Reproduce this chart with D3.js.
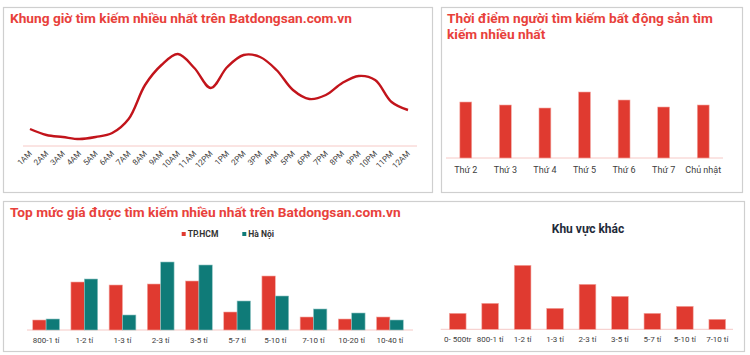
<!DOCTYPE html>
<html><head><meta charset="utf-8">
<script src="https://cdn.jsdelivr.net/npm/d3@7/dist/d3.min.js"></script>
<style>body{margin:0;background:#fff;}svg{display:block;}</style>
</head><body>
<svg id="c" width="750" height="355"></svg>
<script>
const hours = ["1AM","2AM","3AM","4AM","5AM","6AM","7AM","8AM","9AM","10AM","11AM","12PM","1PM","2PM","3PM","4PM","5PM","6PM","7PM","8PM","9PM","10PM","11PM","12AM"];
const hourValues = [17,11,9,7,9,13,27,61,81,92,78,58,79,91,89,76,56,47,51,63,70,66,44,36];

const days = ["Thứ 2","Thứ 3","Thứ 4","Thứ 5","Thứ 6","Thứ 7","Chủ nhật"];
const dayValues = [56,53,50,66,58,51,53];

const priceCats = ["800-1 tỉ","1-2 tỉ","1-3 tỉ","2-3 tỉ","3-5 tỉ","5-7 tỉ","5-10 tỉ","7-10 tỉ","10-20 tỉ","10-40 tỉ"];
const seriesNames = ["TP.HCM","Hà Nội"];
const hcmValues = [10,48,45,46,49,18,54,13,11,13];
const hanoiValues = [11,51,15,68,65,29,34,21,17,10];

const otherCats = ["0- 500tr","800-1 tỉ","1-2 tỉ","1-3 tỉ","2-3 tỉ","3-5 tỉ","5-7 tỉ","5-10 tỉ","7-10 tỉ"];
const otherValues = [16,26,64,21,45,33,16,23,10];

const RED = "#e03a30", TEAL = "#0f7b78", TITLE = "#e8413b", LINE = "#c2141b", AXIS = "#f6c9c6", LBL = "#404040";
const FONT = "Roboto, 'Liberation Sans', sans-serif";
const TSIZE = 13.7;

const svg = d3.select("#c");

// panel borders
[[3.5,7.5,429,185],[441.5,7.5,301,185],[3.5,201.5,741,150]].forEach(p=>{
  svg.append("rect").attr("x",p[0]).attr("y",p[1]).attr("width",p[2]).attr("height",p[3])
    .attr("fill","none").attr("stroke","#cfcfcf").attr("stroke-width",1.2);
});

function title(x,y,t,size,color){
  return svg.append("text").attr("x",x).attr("y",y).text(t)
    .attr("font-family",FONT).attr("font-weight","bold").attr("font-size",size).attr("fill",color);
}

// ---- Panel 1: line chart ----
title(10,23,"Khung giờ tìm kiếm nhiều nhất trên Batdongsan.com.vn",TSIZE,TITLE);
const x1 = d3.scalePoint().domain(hours).range([30,408]);
const y1 = d3.scaleLinear().domain([0,100]).range([146,46]);
svg.append("line").attr("x1",23).attr("x2",417).attr("y1",y1(0)).attr("y2",y1(0)).attr("stroke",AXIS).attr("stroke-width",1);
svg.append("path").datum(hourValues)
  .attr("d",d3.line().x((d,i)=>x1(hours[i])).y(d=>y1(d)).curve(d3.curveCatmullRom.alpha(0.5)))
  .attr("fill","none").attr("stroke",LINE).attr("stroke-width",2.4);
const ax1 = svg.append("g").attr("transform",`translate(0,${y1(0)})`)
  .call(d3.axisBottom(x1).tickSize(0).tickPadding(0));
ax1.select(".domain").remove();
ax1.selectAll("text").attr("font-family",FONT).attr("font-size",8).attr("fill",LBL)
  .attr("text-anchor","end").attr("dy",0).attr("transform","translate(2,8) rotate(-45)");

// ---- Panel 2: weekday bars ----
title(447,23,"Thời điểm người tìm kiếm bất động sản tìm",TSIZE,TITLE);
title(447,39,"kiếm nhiều nhất",TSIZE,TITLE);
const x2 = d3.scaleBand().domain(days).range([446,723]).paddingInner(0.7).paddingOuter(0.35);
const y2 = d3.scaleLinear().domain([0,100]).range([158,58]);
svg.append("line").attr("x1",446).attr("x2",723).attr("y1",y2(0)).attr("y2",y2(0)).attr("stroke",AXIS);
svg.append("g").selectAll("rect").data(dayValues).join("rect")
  .attr("x",(d,i)=>x2(days[i])).attr("width",x2.bandwidth())
  .attr("y",d=>y2(d)).attr("height",d=>y2(0)-y2(d))
  .attr("fill",RED).attr("stroke","#f3aaa4").attr("stroke-width",0.6);
const ax2 = svg.append("g").attr("transform",`translate(0,${y2(0)})`).call(d3.axisBottom(x2).tickSize(0).tickPadding(9));
ax2.select(".domain").remove();
ax2.selectAll("text").attr("font-family",FONT).attr("font-size",9).attr("fill",LBL);

// ---- Panel 3 left: grouped bars ----
title(10,217,"Top mức giá được tìm kiếm nhiều nhất trên Batdongsan.com.vn",TSIZE,TITLE);
const x3 = d3.scaleBand().domain(priceCats).range([27,409]).paddingInner(0.3).paddingOuter(0.15);
const x3s = d3.scaleBand().domain(seriesNames).range([0,x3.bandwidth()]);
const y3 = d3.scaleLinear().domain([0,100]).range([330,230]);
svg.append("line").attr("x1",27).attr("x2",413).attr("y1",y3(0)).attr("y2",y3(0)).attr("stroke",AXIS);
const seriesData = [hcmValues, hanoiValues];
const seriesColors = [RED, TEAL];
seriesData.forEach((vals,s)=>{
  svg.append("g").selectAll("rect").data(vals).join("rect")
    .attr("x",(d,i)=>x3(priceCats[i])+x3s(seriesNames[s])).attr("width",x3s.bandwidth())
    .attr("y",d=>y3(d)).attr("height",d=>y3(0)-y3(d))
    .attr("fill",seriesColors[s]).attr("stroke",s===0?"#f3aaa4":"#8fc4c2").attr("stroke-width",0.6);
});
const ax3 = svg.append("g").attr("transform",`translate(0,${y3(0)})`).call(d3.axisBottom(x3).tickSize(0).tickPadding(7));
ax3.select(".domain").remove();
ax3.selectAll("text").attr("font-family",FONT).attr("font-size",8).attr("fill",LBL);
// legend
const legX = [181.7, 242.3];
seriesNames.forEach((n,s)=>{
  svg.append("rect").attr("x",legX[s]).attr("y",232).attr("width",4).attr("height",4).attr("fill",seriesColors[s]);
  svg.append("text").attr("x",legX[s]+6).attr("y",237.2).text(n)
    .attr("font-family",FONT).attr("font-weight","bold").attr("font-size",8.5).attr("fill","#333");
});

// ---- Panel 3 right: other regions ----
svg.append("text").attr("x",588).attr("y",233).attr("text-anchor","middle").text("Khu vực khác")
  .attr("font-family",FONT).attr("font-weight","bold").attr("font-size",12).attr("fill","#1f2b3a");
const x4 = d3.scaleBand().domain(otherCats).range([441.5,733.5]).paddingInner(0.485).paddingOuter(0.2425);
const y4 = d3.scaleLinear().domain([0,100]).range([329.3,229.3]);
svg.append("line").attr("x1",440.7).attr("x2",733).attr("y1",y4(0)).attr("y2",y4(0)).attr("stroke",AXIS);
svg.append("g").selectAll("rect").data(otherValues).join("rect")
  .attr("x",(d,i)=>x4(otherCats[i])).attr("width",x4.bandwidth())
  .attr("y",d=>y4(d)).attr("height",d=>y4(0)-y4(d))
  .attr("fill",RED).attr("stroke","#f3aaa4").attr("stroke-width",0.6);
const ax4 = svg.append("g").attr("transform",`translate(0,${y4(0)})`).call(d3.axisBottom(x4).tickSize(0).tickPadding(7));
ax4.select(".domain").remove();
ax4.selectAll("text").attr("font-family",FONT).attr("font-size",8).attr("fill",LBL);
</script>
</body></html>
